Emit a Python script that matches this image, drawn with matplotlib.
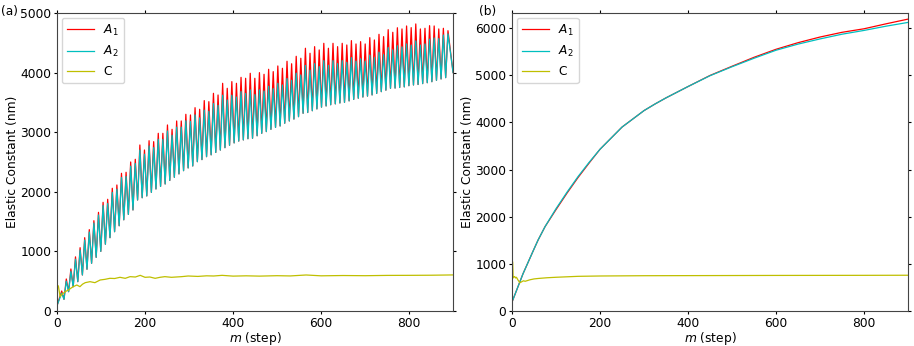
import matplotlib.pyplot as plt
import numpy as np

# ---- panel (a): oscillating constants, one value per half cycle ----
first_peak = 10.6     # step of the first maximum
period = 10.45        # steps per oscillation
start_val = 90
end_val = 4000

a1_peaks = [335, 537, 705, 908, 1062, 1230, 1365, 1515, 1655, 1823,
            1874, 2059, 2114, 2310, 2327, 2500, 2545, 2785, 2701, 2857,
            2841, 2981, 2981, 3121, 3048, 3188, 3188, 3300, 3289, 3411,
            3384, 3530, 3512, 3652, 3624, 3820, 3736, 3848, 3820, 3920,
            3904, 3988, 3904, 3999, 3971, 4055, 4016, 4111, 4072, 4190,
            4148, 4273, 4240, 4408, 4324, 4435, 4380, 4491, 4408, 4491,
            4435, 4491, 4463, 4536, 4480, 4519, 4480, 4586, 4547, 4642,
            4603, 4720, 4676, 4752, 4732, 4782, 4754, 4816, 4732, 4743,
            4787, 4782, 4732, 4743, 4703]
a2_peaks = [300, 500, 665, 868, 1022, 1190, 1325, 1475, 1610, 1770,
            1804, 1989, 2044, 2240, 2257, 2430, 2475, 2700, 2630, 2770,
            2741, 2880, 2880, 3020, 2950, 3085, 3085, 3190, 3180, 3290,
            3240, 3370, 3350, 3480, 3450, 3620, 3540, 3620, 3590, 3680,
            3650, 3710, 3630, 3710, 3690, 3770, 3730, 3820, 3790, 3900,
            3870, 3990, 3960, 4120, 4040, 4150, 4100, 4200, 4120, 4200,
            4150, 4200, 4170, 4250, 4190, 4230, 4190, 4290, 4250, 4340,
            4300, 4420, 4380, 4450, 4430, 4480, 4460, 4530, 4460, 4480,
            4560, 4580, 4570, 4630, 4650]
troughs = [196, 324, 408, 492, 604, 700, 800, 900, 1000, 1120,
           1230, 1330, 1430, 1530, 1620, 1695, 1862, 1900, 1930, 1990,
           2047, 2090, 2131, 2190, 2243, 2300, 2354, 2400, 2433, 2505,
           2540, 2589, 2620, 2660, 2700, 2740, 2780, 2820, 2850, 2870,
           2890, 2898, 2940, 2981, 3010, 3048, 3080, 3104, 3150, 3188,
           3220, 3260, 3317, 3330, 3360, 3390, 3420, 3440, 3460, 3475,
           3490, 3500, 3525, 3550, 3570, 3590, 3605, 3625, 3650, 3680,
           3705, 3736, 3740, 3750, 3760, 3780, 3792, 3800, 3815, 3830,
           3847, 3870, 3893, 3915]

c_a_m = [0, 3, 7, 10, 14, 20, 26, 32, 37, 45, 52, 58, 64, 75, 86, 98, 109,
         120, 131, 143, 155, 166, 178, 189, 200, 211, 223, 234, 245, 260,
         283, 298, 320, 340, 356, 375, 400, 430, 460, 500, 530, 566, 600,
         650, 700, 750, 800, 850, 900]
c_a = [436, 420, 240, 270, 297, 330, 352, 385, 408, 436, 408, 450, 475,
       492, 475, 520, 531, 548, 545, 565, 548, 576, 570, 598, 565, 570,
       548, 565, 576, 565, 576, 587, 580, 590, 587, 598, 585, 590, 585,
       592, 588, 604, 590, 595, 592, 597, 598, 600, 605]

# ---- panel (b): smooth constants ----
m_b = [0, 25, 50, 59, 75, 100, 125, 150, 175, 200, 250, 300, 325, 350,
       400, 450, 500, 550, 600, 650, 700, 750, 800, 850, 900]
a1_b = [190, 790, 1315, 1500, 1788, 2150, 2500, 2830, 3135, 3430, 3900,
        4250, 4390, 4520, 4760, 4995, 5190, 5380, 5550, 5690, 5810, 5910,
        5985, 6090, 6190]
a2_b = [190, 790, 1315, 1500, 1788, 2170, 2520, 2850, 3150, 3430, 3900,
        4250, 4390, 4520, 4760, 4990, 5180, 5360, 5530, 5660, 5770, 5870,
        5950, 6040, 6120]

c_b_m = [0, 1.5, 2.5, 4, 6, 8, 10, 14, 18, 22, 26, 30, 40, 50, 60, 80, 100,
         150, 200, 300, 400, 500, 600, 700, 800, 900]
c_b = [1063, 1040, 700, 720, 730, 700, 715, 650, 598, 620, 640, 630, 660,
       680, 690, 705, 715, 735, 742, 748, 750, 752, 754, 755, 756, 758]

# build the zig-zag series for panel (a)
n = len(a1_peaks)
peak_m = first_peak + period * np.arange(n)
trough_m = peak_m[:len(troughs)] + period / 2
m_a = np.empty(n + len(troughs))
m_a[0::2] = peak_m
m_a[1::2] = trough_m
a1 = np.empty_like(m_a)
a1[0::2] = a1_peaks
a1[1::2] = troughs
a2 = np.empty_like(m_a)
a2[0::2] = a2_peaks
a2[1::2] = troughs
m_a = np.concatenate([[0], m_a, [900]])
a1 = np.concatenate([[start_val], a1, [end_val]])
a2 = np.concatenate([[start_val], a2, [end_val]])

plt.rcParams['font.size'] = 8.8

fig = plt.figure(figsize=(9.14, 3.46), dpi=100)
ax1 = fig.add_axes([0.0624, 0.1012, 0.4333, 0.8613])
ax2 = fig.add_axes([0.5602, 0.1012, 0.4333, 0.8613])

ax1.plot(m_a, a1, color='r', lw=0.9, label='$A_1$')
ax1.plot(m_a, a2, color='c', lw=0.9, label='$A_2$')
ax1.plot(c_a_m, c_a, color='y', lw=0.9, label='C')
ax1.set_ylim(0, 5000)

ax2.plot(m_b, a1_b, color='r', lw=0.9, label='$A_1$')
ax2.plot(m_b, a2_b, color='c', lw=0.9, label='$A_2$')
ax2.plot(c_b_m, c_b, color='y', lw=0.9, label='C')
ax2.set_ylim(0, 6320)

for ax in (ax1, ax2):
    ax.set_xlim(0, 900)
    ax.set_xticks([0, 200, 400, 600, 800])
    ax.set_xlabel('$m$ (step)', labelpad=0)
    ax.set_ylabel('Elastic Constant (nm)', labelpad=1)
    ax.tick_params(top=True, right=True, length=2.5, pad=1.5)
    for s in ax.spines.values():
        s.set_color('#444444')
    ax.legend(loc='upper left', handlelength=2.2, borderaxespad=0.4)

fig.text(0.001, 0.985, '(a)', va='top')
fig.text(0.524, 0.985, '(b)', va='top')

fig.savefig('out.png', dpi=100)
